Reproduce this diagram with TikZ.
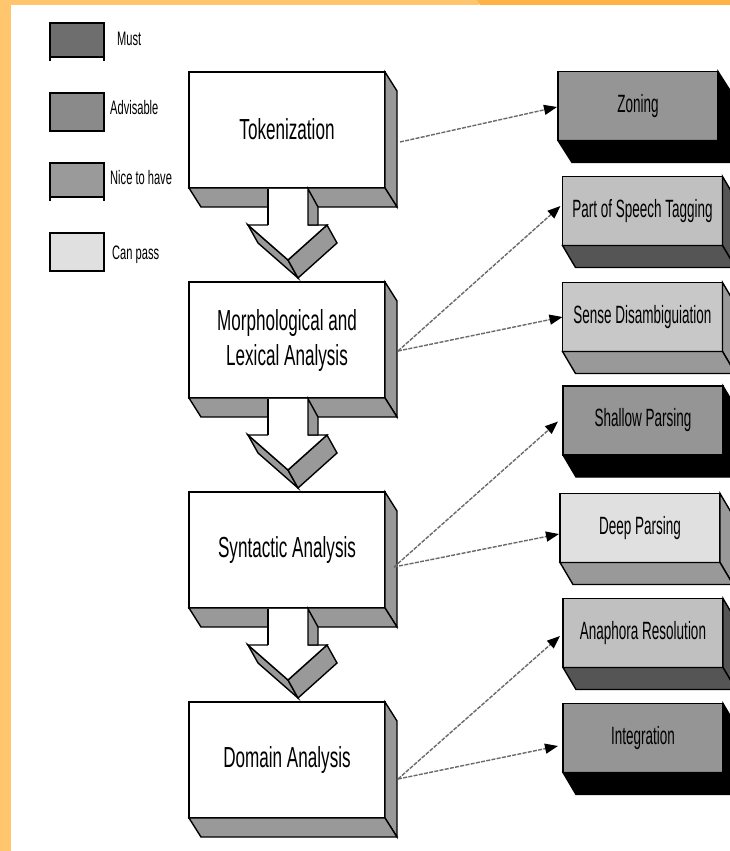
\documentclass[tikz,border=0pt]{standalone}
\usepackage{fontspec}
\newfontfamily\mainf[FakeStretch=0.59]{Liberation Sans}
\newfontfamily\smallf[FakeStretch=0.54]{Liberation Sans}
\newfontfamily\legf[FakeStretch=0.57]{Liberation Sans}
\usetikzlibrary{arrows.meta,calc}
\definecolor{orA}{HTML}{FFC66E}
\definecolor{orB}{HTML}{FFB347}
\definecolor{sideg}{HTML}{999999}
\definecolor{cMust}{HTML}{959595}
\definecolor{cLight}{HTML}{C0C0C0}
\definecolor{cLightS}{HTML}{555555}
\definecolor{cSense}{HTML}{C8C8C8}
\definecolor{cPale}{HTML}{E0E0E0}
\definecolor{lgA}{HTML}{6E6E6E}
\definecolor{lgB}{HTML}{8A8A8A}
\definecolor{lgC}{HTML}{9A9A9A}
\definecolor{lgD}{HTML}{E0E0E0}
\definecolor{dashc}{HTML}{6A6A6A}
\tikzset{
  mainbox/.style={draw=black, fill=white, line width=1.6pt, minimum width=196pt, minimum height=116pt,
    inner sep=0pt, outer sep=0pt, align=center, font=\mainf\fontsize{29}{35}\selectfont},
  rbox/.style={draw=black, line width=1.5pt, minimum width=160pt, minimum height=69pt,
    inner sep=0pt, outer sep=0pt, font=\smallf\fontsize{25}{30}\selectfont},
  legbox/.style={draw=black, line width=1.4pt, minimum width=54pt, inner sep=0pt, outer sep=0pt},
  legtext/.style={anchor=west, inner sep=0pt, font=\legf\fontsize{19.5}{23}\selectfont},
  face/.style={draw=black, line width=1.4pt, line join=miter},
  conn/.style={draw=dashc, line width=1.4pt, dash pattern=on 4pt off 1.3pt,
    -{Triangle[length=13pt,width=10pt,fill=black,color=black]}},
}
% 3D side faces of a box: name, dx, dy, colour
\newcommand\sidefaces[4]{%
  \filldraw[face, fill=#4] (#1.north east) -- ++(#2,#3) -- ($(#1.south east)+(#2,#3)$) -- (#1.south east) -- cycle;
  \filldraw[face, fill=#4] (#1.south west) -- (#1.south east) -- ($(#1.south east)+(#2,#3)$) -- ($(#1.south west)+(#2,#3)$) -- cycle;
}
% 3D block arrow below a main box
\newcommand\blockarrow[1]{%
  \begin{scope}[shift={($(#1.south)+(1,0)$)}]
    \filldraw[face, fill=sideg] (-40,37) -- (0,72) -- (10,90) -- (-30,55) -- cycle;
    \filldraw[face, fill=sideg] (0,72) -- (39,37) -- (49,55) -- (10,90) -- cycle;
    \fill[white] (-40,37) -- (39,37) -- (0,72) -- cycle;
    \draw[face] (-20,37) -- (-40,37) -- (0,72) -- (39,37) -- (20,37);
    \fill[white] (-20,1) rectangle (20,37);
    \draw[face] (-20,0.8) -- (-20,37);
    \filldraw[face, fill=sideg] (20,0.8) -- (30,19) -- (30,37) -- (20,37) -- cycle;
  \end{scope}
}
\begin{document}
\begin{tikzpicture}[x=1pt,y=-1pt]
\useasboundingbox (0,0) rectangle (730,851);
\clip (0,0) rectangle (730,851);
\fill[white] (0,0) rectangle (730,851);
\fill[orA] (0,0) rectangle (479,5);
\fill[orB] (477,0) -- (730,0) -- (730,5) -- (480,5) -- cycle;
\fill[orA] (0,0) rectangle (11,851);

% legend
\node[legbox, fill=lgA, minimum height=34pt] (lmust) at (77,40) {};
\draw[line width=2.4pt] (lmust.south west) -- (lmust.south east);
\draw[line width=1.2pt] (lmust.south west) -- ++(0,4) (lmust.south east) -- ++(0,4);
\node[legbox, fill=lgB, minimum height=38pt] (ladv) at (77,112) {};
\node[legbox, fill=lgC, minimum height=34pt] (lnice) at (77,180) {};
\draw[line width=2.4pt] (lnice.south west) -- (lnice.south east);
\draw[line width=1.2pt] (lnice.south west) -- ++(0,4) (lnice.south east) -- ++(0,4);
\node[legbox, fill=lgD, minimum height=38pt] (lcan) at (77,252) {};
\node[legtext] (tmust) at (117,39) {Must};
\node[legtext] (tadv) at (110,108) {Advisable};
\node[legtext] (tnice) at (110,178) {Nice to have};
\node[legtext] (tcan) at (112,255) {Can pass};

% main column
\node[mainbox] (tok) at (287,130) {\raisebox{3pt}{Tokenization}};
\node[mainbox] (mor) at (287,340) {Morphological and\\Lexical Analysis};
\node[mainbox] (syn) at (287,550) {Syntactic Analysis};
\node[mainbox] (dom) at (287,760) {Domain Analysis};
\foreach \n in {tok,mor,syn,dom}{\sidefaces{\n}{12}{19}{sideg}}
\blockarrow{tok}
\blockarrow{mor}
\blockarrow{syn}

% right column
\node[rbox, fill=cMust] (zon) at (638,106) {Zoning};
\node[rbox, fill=cLight] (pos) at (642.5,211) {Part of Speech Tagging};
\node[rbox, fill=cSense] (sen) at (642.5,317) {Sense Disambiguiation};
\node[rbox, fill=cMust] (sha) at (643,420.5) {Shallow Parsing};
\node[rbox, fill=cPale] (dee) at (640,528) {Deep Parsing};
\node[rbox, fill=cLight] (ana) at (643,633) {Anaphora Resolution};
\node[rbox, fill=cMust] (int) at (643,738) {Integration};
\sidefaces{zon}{14}{22}{black}
\sidefaces{pos}{13}{22}{cLightS}
\sidefaces{sen}{13}{22}{sideg}
\sidefaces{sha}{13}{22}{black}
\sidefaces{dee}{13}{22}{sideg}
\sidefaces{ana}{13}{22}{cLightS}
\sidefaces{int}{13}{22}{black}

% connectors
\coordinate (tokout) at (400,142);
\coordinate (morout) at (398,351);
\coordinate (synout) at (394,567);
\coordinate (domout) at (398,779);
\draw[conn] (tokout) -- ($(zon.west)+(-1,1)$);
\draw[conn] (morout) -- ($(pos.west)+(-2,-5)$);
\draw[conn] (morout) -- (sen.west);
\draw[conn] (synout) -- ($(sha.west)+(-5,1)$);
\draw[conn] (synout) -- ($(dee.west)+(-1,6)$);
\draw[conn] (domout) -- ($(ana.west)+(-3,3)$);
\draw[conn] (domout) -- ($(int.west)+(-5,8)$);
\end{tikzpicture}
\end{document}
